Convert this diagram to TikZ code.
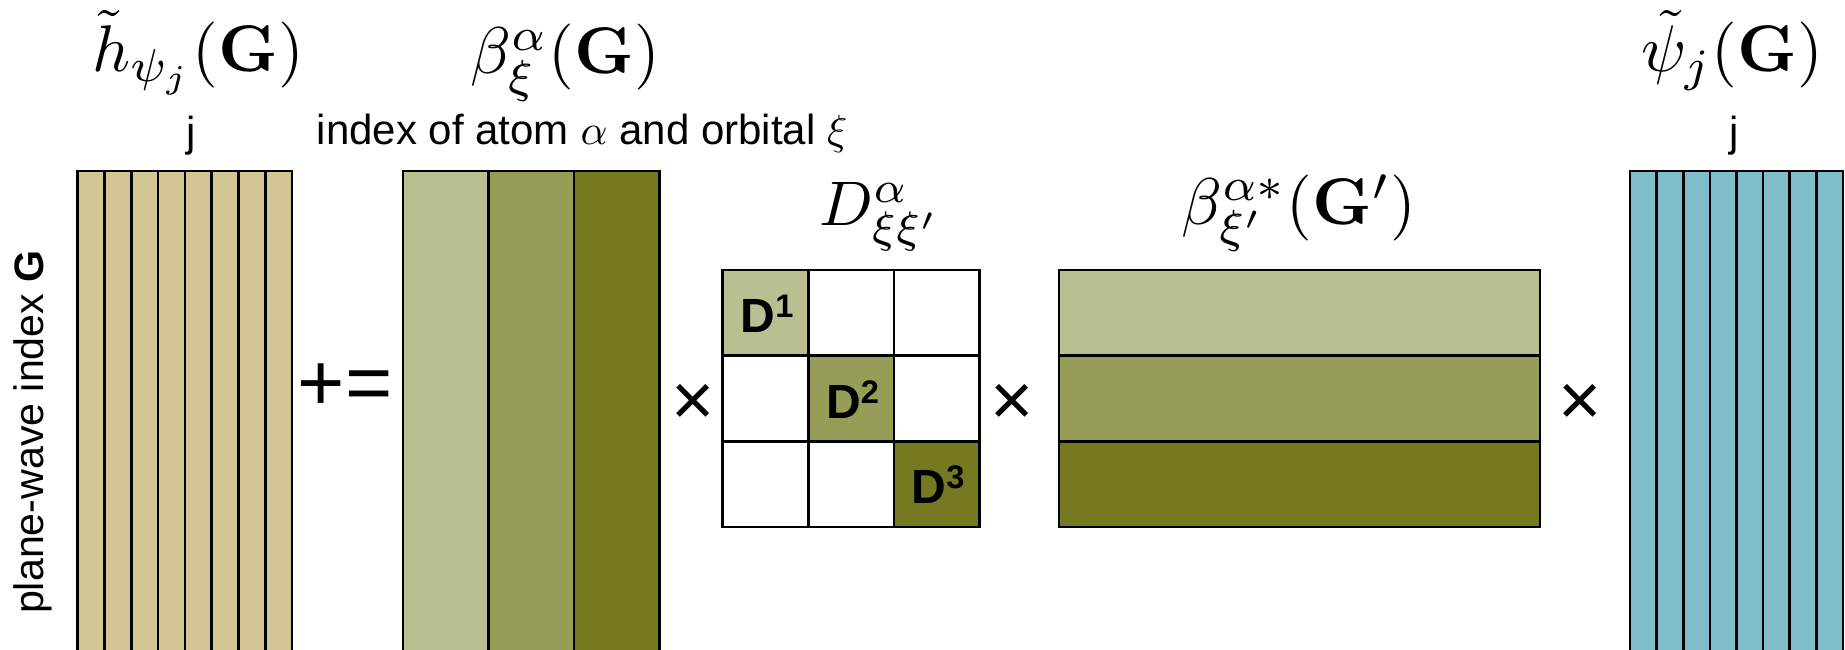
\documentclass[tikz,border=0pt]{standalone}
\usepackage[no-math]{fontspec}
\newfontfamily\arial{Liberation Sans}
\definecolor{tanc}{RGB}{212,198,147}
\definecolor{olA}{RGB}{186,190,145}
\definecolor{olB}{RGB}{151,156,86}
\definecolor{olC}{RGB}{117,121,31}
\definecolor{wblue}{RGB}{128,188,202}
\newcommand\dlab[1]{\textbf{D}\raisebox{3.1pt}{\fontsize{6.8}{8}\selectfont\bfseries #1}}
\begin{document}
\begin{tikzpicture}[x=1pt,y=-1pt,
  cellbox/.style={draw=black, line width=2.6pt},
  mlabel/.style={inner sep=0pt, scale=6.6},
  stxt/.style={inner sep=0pt, font=\arial, scale=4.2},
  optxt/.style={inner sep=0pt, font=\arial, scale=8.1},
  timestxt/.style={inner sep=0pt, font=\arial, scale=7.4},
  dtxt/.style={inner sep=0pt, font=\arial, scale=4.8}]
\useasboundingbox (0,0) rectangle (1845,650);
\clip (0,0) rectangle (1845,650);
\fill[white] (0,0) rectangle (1845,650);

% left matrix h
\foreach \i in {0,...,7}
  \draw[cellbox, fill=tanc] ({77.7+26.8*\i},171) rectangle ({77.7+26.8*(\i+1)},690);
% beta matrix
\draw[cellbox, fill=olA] (403,171) rectangle (488.4,690);
\draw[cellbox, fill=olB] (488.4,171) rectangle (573.8,690);
\draw[cellbox, fill=olC] (573.8,171) rectangle (659.7,690);
% D matrix
\foreach \r in {0,1,2}
  \foreach \c in {0,1,2}
    \draw[cellbox, fill=white] ({722.6+85.7*\c},{270+85.7*\r}) rectangle ({722.6+85.7*(\c+1)},{270+85.7*(\r+1)});
\draw[cellbox, fill=olA] (722.6,270) rectangle (808.3,355.7);
\draw[cellbox, fill=olB] (808.3,355.7) rectangle (894,441.4);
\draw[cellbox, fill=olC] (894,441.4) rectangle (979.7,527.1);
\node[dtxt] (d1) at (767,314) {\dlab{1}};
\node[dtxt] (d2) at (852.5,399.5) {\dlab{2}};
\node[dtxt] (d3) at (938,485) {\dlab{3}};
% beta* matrix
\draw[cellbox, fill=olA] (1059,270) rectangle (1540,355.7);
\draw[cellbox, fill=olB] (1059,355.7) rectangle (1540,441.4);
\draw[cellbox, fill=olC] (1059,441.4) rectangle (1540,527.1);
% right matrix psi
\foreach \i in {0,...,7}
  \draw[cellbox, fill=wblue] ({1630+26.6*\i},171) rectangle ({1630+26.6*(\i+1)},690);

% labels
\node[mlabel, anchor=base] (hlab) at (198,72) {$\tilde h_{\psi_j}(\mathbf{G})$};
\node[mlabel, anchor=base] (blab) at (565,74) {$\beta^{\alpha}_{\xi}(\mathbf{G})$};
\node[mlabel, anchor=base] (plab) at (1732,72) {$\tilde\psi_j(\mathbf{G})$};
\node[mlabel, anchor=base] (bslab) at (1299,224) {$\beta^{\alpha *}_{\xi'}(\mathbf{G}')$};
\node[inner sep=0pt, scale=6.3, anchor=base] (dlab) at (880,225) {$D^{\alpha}_{\xi\xi'}$};

\node[stxt, anchor=base] (jl) at (191,147) {j};
\node[stxt, anchor=base] (jr) at (1734,147) {j};
\node[stxt, anchor=base west] (idx) at (316,145) {index of atom $\alpha$ and orbital $\xi$};
\node[stxt, scale=0.98, anchor=base, rotate=90] (pw) at (43,432) {plane-wave index \textbf{G}};

\node[optxt] (pe) at (345,387) {+=};
\node[timestxt] (t1) at (693,405) {×};
\node[timestxt] (t2) at (1012,405) {×};
\node[timestxt] (t3) at (1580,405) {×};
\end{tikzpicture}
\end{document}
